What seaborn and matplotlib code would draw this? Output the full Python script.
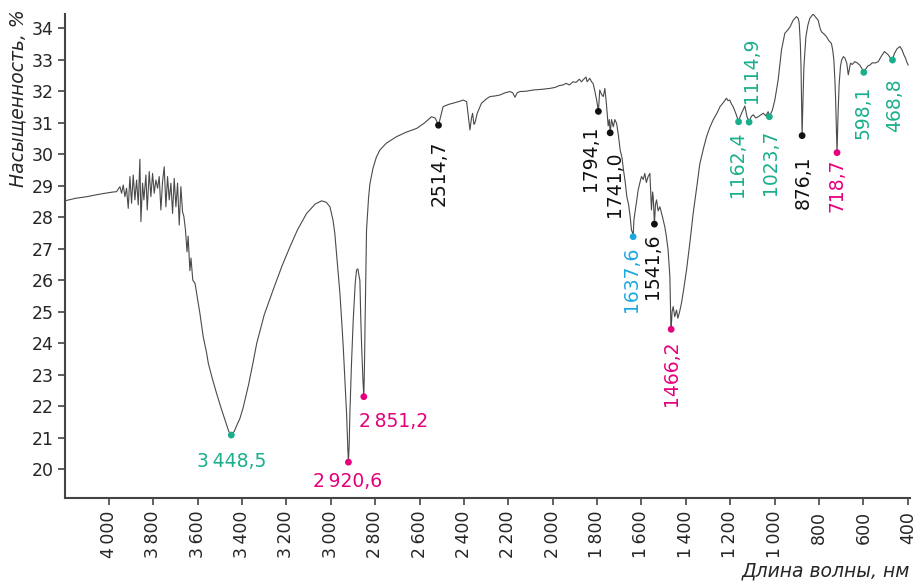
import matplotlib
matplotlib.use("Agg")
import matplotlib.pyplot as plt
import matplotlib.ticker as mticker
import seaborn as sns
import pandas as pd

# ---------------- data ----------------
wavenumber = [
    4198, 4150, 4100, 4050, 4000, 3980, 3965.5,
    3950.4, 3942.9, 3935.4, 3927.9, 3920.4, 3912.9, 3905.4, 3897.9, 3890.4, 3882.8,
    3875.3, 3867.8, 3860.3, 3855.8, 3848.3, 3842.3, 3833.3, 3827.3, 3818.3, 3810.8,
    3803.2, 3795.7, 3788.2, 3780.7, 3773.2, 3765.7, 3758.2, 3750.7, 3743.2, 3735.7,
    3728.1, 3720.6, 3713.1, 3705.6, 3698.1, 3690.6, 3683.1, 3675.6, 3668.1, 3662.1,
    3655, 3648, 3643, 3635, 3630, 3622, 3612, 3605, 3590, 3575, 3560, 3552, 3535,
    3515, 3495, 3477, 3460, 3448.5, 3435, 3420, 3410, 3395, 3370, 3350, 3334, 3300,
    3260, 3220, 3184, 3150, 3109, 3070, 3041, 3020, 3004, 2990, 2982, 2970, 2959,
    2950, 2944, 2935, 2929, 2923, 2920.6, 2917, 2914, 2907, 2899, 2890, 2884, 2878,
    2872, 2869, 2865, 2861, 2855, 2851.2, 2848, 2846, 2842, 2839, 2830, 2824, 2810,
    2795, 2779, 2750, 2703, 2660, 2613, 2580, 2546, 2530, 2523, 2514.7, 2505, 2494,
    2470, 2449, 2420, 2403, 2388, 2380, 2373, 2366, 2361, 2355, 2351, 2340, 2321,
    2300, 2283, 2260, 2238, 2215, 2193, 2180, 2170, 2160, 2148, 2120, 2088, 2050,
    2013, 1990, 1970, 1953, 1940, 1925, 1908, 1895, 1880, 1870, 1863, 1850, 1845,
    1833, 1825, 1818, 1810, 1802, 1794.1, 1788, 1780, 1772, 1765, 1758, 1750, 1745,
    1741, 1735, 1727, 1720, 1712, 1704, 1696, 1688, 1681, 1673, 1666, 1658, 1651,
    1645, 1640, 1637.6, 1634, 1630, 1622, 1615, 1607, 1600, 1592, 1585, 1578, 1570,
    1562, 1555, 1550, 1547, 1541.6, 1537, 1532, 1525, 1517, 1505, 1495, 1488, 1480,
    1472, 1468, 1466.2, 1462, 1457, 1450, 1442, 1436, 1428, 1420, 1410, 1397, 1380,
    1367, 1350, 1337, 1320, 1307, 1292, 1277, 1260, 1246, 1230, 1217, 1210, 1202,
    1195, 1187, 1175, 1162.4, 1155, 1149, 1134, 1125, 1114.9, 1105, 1096, 1085,
    1074, 1062, 1051, 1040, 1029, 1023.7, 1010, 999, 984, 969, 954, 940, 930, 916,
    901, 893, 889, 884, 881, 878, 876.1, 873, 868, 863, 859, 850, 841, 826, 815,
    804, 795, 789, 775, 766, 755, 744, 738, 733, 728, 725, 721, 718.7, 714, 709,
    703, 698, 690, 683, 675, 668, 663, 658, 650, 639, 628, 616, 605, 598.1, 590,
    580, 571, 560, 545, 533, 520, 505, 495, 487, 478, 468.8, 460, 448, 435, 425,
    417, 410, 405, 398,
]
transmittance = [
    28.52, 28.60, 28.65, 28.72, 28.78, 28.80, 28.81,
    28.97, 28.76, 29.02, 28.65, 28.92, 28.28, 29.29, 28.44, 29.34, 28.55,
    29.18, 28.39, 29.84, 27.86, 29.08, 28.55, 29.34, 28.23, 29.45, 28.65,
    29.39, 28.76, 29.18, 28.92, 29.29, 28.23, 29.13, 29.60, 28.33, 29.29,
    28.55, 29.08, 28.12, 29.23, 28.33, 29.08, 27.75, 28.97, 28.17, 28.02,
    27.60, 26.90, 27.40, 26.30, 26.70, 26.00, 25.90, 25.60, 24.95, 24.20, 23.70, 23.36, 22.90,
    22.41, 21.95, 21.56, 21.20, 21.08, 21.20, 21.45, 21.60, 21.95, 22.70, 23.40, 23.99, 24.90,
    25.69, 26.45, 27.06, 27.60, 28.12, 28.42, 28.52, 28.47, 28.33, 27.90, 27.49, 26.50, 25.58,
    24.60, 23.89, 22.60, 21.77, 20.60, 20.23, 20.80, 21.77, 23.30, 24.73, 25.90, 26.32, 26.36,
    26.10, 26.00, 24.80, 23.89, 22.80, 22.30, 23.40, 24.42, 26.20, 27.59, 28.60, 29.05, 29.55,
    29.90, 30.13, 30.35, 30.56, 30.70, 30.82, 30.98, 31.19, 31.15, 31.05, 30.92, 31.20, 31.51,
    31.58, 31.62, 31.68, 31.72, 31.67, 31.20, 30.77, 31.15, 31.30, 30.95, 30.98, 31.30, 31.62,
    31.75, 31.83, 31.85, 31.88, 31.95, 31.99, 31.95, 31.81, 31.95, 31.99, 32.00, 32.04, 32.06,
    32.09, 32.12, 32.18, 32.20, 32.25, 32.20, 32.30, 32.28, 32.38, 32.30, 32.36, 32.45, 32.30,
    32.41, 32.30, 32.25, 32.00, 31.72, 31.36, 32.04, 31.90, 31.83, 32.09, 31.60, 30.90, 31.10,
    30.68, 31.10, 30.87, 31.10, 30.98, 30.60, 30.13, 29.90, 29.50, 29.10, 28.65, 28.40, 28.02,
    27.59, 27.50, 27.38, 27.90, 28.12, 28.50, 28.86, 29.10, 29.29, 29.20, 29.39, 29.10, 29.29,
    29.39, 28.23, 28.80, 28.65, 27.78, 28.40, 28.55, 28.20, 28.33, 28.00, 27.70, 27.40, 26.96,
    26.11, 24.73, 24.44, 25.00, 25.16, 24.84, 25.05, 24.79, 25.00, 25.26, 25.70, 26.32, 27.30,
    28.12, 29.00, 29.70, 30.20, 30.55, 30.85, 31.09, 31.30, 31.51, 31.65, 31.78, 31.70, 31.72,
    31.60, 31.51, 31.30, 31.03, 31.20, 31.30, 31.53, 31.20, 31.02, 31.20, 31.25, 31.15,
    31.19, 31.25, 31.30, 31.22, 31.35, 31.19, 31.40, 31.72, 32.36, 33.31, 33.84, 33.95, 34.05, 34.26,
    34.37, 34.30, 34.16, 33.50, 32.78, 31.50, 30.59, 31.50, 32.78, 33.30, 33.73, 34.10, 34.32, 34.45, 34.35,
    34.26, 34.00, 33.89, 33.80, 33.73, 33.60, 33.52, 33.30, 32.99, 32.30, 31.72, 30.60, 30.05, 31.30, 32.25,
    32.80, 32.99, 33.10, 33.05, 32.90, 32.52, 32.70, 32.89, 32.85, 32.94, 32.90, 32.83, 32.70, 32.60, 32.70,
    32.80, 32.83, 32.90, 32.90, 32.94, 33.10, 33.26, 33.20, 33.15, 33.05, 33.00, 33.20, 33.35, 33.42, 33.30,
    33.15, 33.05, 32.94, 32.83,
]

peak_pos = [3448.5, 2920.6, 2851.2, 2514.7, 1794.1, 1741.0, 1637.6, 1541.6, 1466.2,
            1162.4, 1114.9, 1023.7, 876.1, 718.7, 598.1, 468.8]
peak_val = [21.08, 20.22, 22.30, 30.92, 31.36, 30.68, 27.38, 27.78, 24.44,
            31.03, 31.02, 31.19, 30.59, 30.05, 32.60, 32.99]
peak_label = ["3\u2009448,5", "2\u2009920,6", "2\u2009851,2", "2514,7", "1794,1", "1741,0",
              "1637,6", "1541,6", "1466,2", "1162,4", "1114,9", "1023,7", "876,1",
              "718,7", "598,1", "468,8"]
peak_group = ["teal", "pink", "pink", "black", "black", "black", "blue", "black", "pink",
              "teal", "teal", "teal", "black", "pink", "teal", "teal"]

x_ticks = [4000, 3800, 3600, 3400, 3200, 3000, 2800, 2600, 2400, 2200, 2000,
           1800, 1600, 1400, 1200, 1000, 800, 600, 400]
y_ticks = list(range(20, 35))

# ---------------- style ----------------
palette = {"teal": "#1aaf8b", "pink": "#e5007d", "blue": "#1da8e0", "black": "#111111"}
# (offset dx, dy in pixels, rotation, ha, va)
label_style = [
    (0, -17, 0, "center", "top"),
    (-1, -10, 0, "center", "top"),
    (-5, -15, 0, "left", "top"),
    (1, -15, 90, "center", "top"),
    (-8, -14, 90, "center", "top"),
    (4, -19, 90, "center", "top"),
    (-2, -10, 90, "center", "top"),
    (-2, -9, 90, "center", "top"),
    (0, -11, 90, "center", "top"),
    (-1, -10, 90, "center", "top"),
    (2, 19, 90, "center", "bottom"),
    (1, -13, 90, "center", "top"),
    (1, -20, 90, "center", "top"),
    (0, -6, 90, "center", "top"),
    (-1, -13, 90, "center", "top"),
    (2, -18, 90, "center", "top"),
]

sns.set_theme(style="white")
plt.rcParams["font.family"] = ["DejaVu Sans"]

fig = plt.figure(figsize=(9.15, 5.87), dpi=100)
ax = fig.add_axes([0.071, 0.151, 0.9235, 0.825])

spec = pd.DataFrame({"wn": wavenumber, "T": transmittance})
sns.lineplot(data=spec, x="wn", y="T", ax=ax, color="#4a4a4a", linewidth=0.8, sort=False)

peaks = pd.DataFrame({"wn": peak_pos, "T": peak_val, "g": peak_group})
sns.scatterplot(data=peaks, x="wn", y="T", hue="g", palette=palette, ax=ax,
                s=24, linewidth=0, legend=False, zorder=5)

for xv, yv, lab, grp, (dx, dy, rot, ha, va) in zip(peak_pos, peak_val, peak_label,
                                                    peak_group, label_style):
    ax.annotate(lab, (xv, yv), xytext=(dx, dy), textcoords="offset pixels",
                rotation=rot, ha=ha, va=va, color=palette[grp], fontsize=13.5)

ax.set_xlim(4198, 390)
ax.set_ylim(19.07, 34.45)
ax.set_xticks(x_ticks)
ax.set_yticks(y_ticks)


def fmt(v, pos):
    v = int(round(v))
    if v >= 1000:
        return f"{v // 1000}\u2009{v % 1000:03d}"
    return str(v)


ax.xaxis.set_major_formatter(mticker.FuncFormatter(fmt))
ax.tick_params(axis="x", rotation=90, labelsize=12.5, direction="out", length=5,
               width=1.2, color="#444444", bottom=True, pad=4)
ax.tick_params(axis="y", labelsize=12.5, direction="out", length=5, width=1.2,
               color="#444444", left=True, pad=3)
for lab in ax.get_xticklabels():
    lab.set_va("top")

for side in ["top", "right"]:
    ax.spines[side].set_visible(False)
for side in ["left", "bottom"]:
    ax.spines[side].set_color("#444444")
    ax.spines[side].set_linewidth(1.5)

ax.set_xlabel("Длина волны, нм", fontsize=13.5, style="italic", loc="right",
              labelpad=2)
ax.set_ylabel("Насыщенность, %", fontsize=13.5, style="italic")
ax.yaxis.label.set_va("bottom")
ax.yaxis.label.set_ha("right")
ax.yaxis.set_label_coords(-0.044, 1.01)
ax.grid(False)

fig.savefig("out.png", dpi=100)
